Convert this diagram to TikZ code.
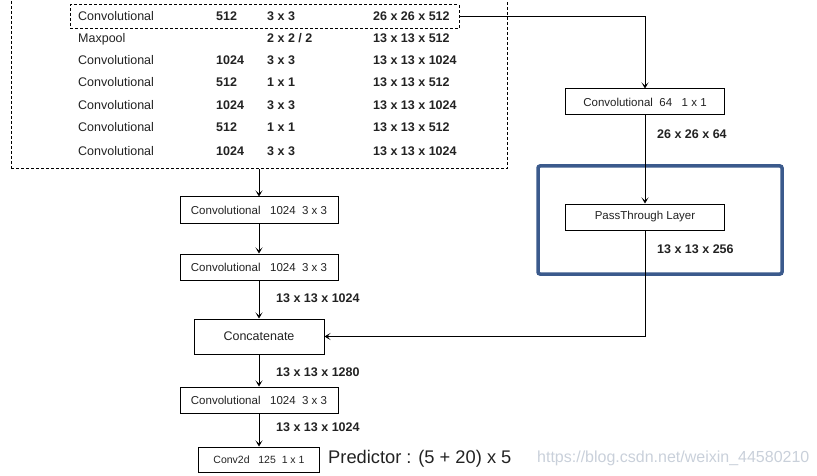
\documentclass[tikz,border=0pt]{standalone}
\usepackage{fontspec}
\setmainfont{Liberation Sans}
\usetikzlibrary{arrows.meta}
\definecolor{txt}{HTML}{222222}
\definecolor{frameblue}{HTML}{3B5A8C}
\definecolor{wmark}{HTML}{C9D0DA}
\tikzset{
  arr/.style={-{Stealth[length=6pt,width=7pt,inset=3pt]}, line width=1pt, draw=black},
  ln/.style={line width=1pt, draw=black},
  dbox/.style={draw=black, line width=1pt, dash pattern=on 3pt off 2pt, inner sep=0pt},
  cell/.style={anchor=west, inner sep=0pt, text=txt, font=\fontsize{12.5}{14}\selectfont, text height=9pt, text depth=2.5pt},
  bcell/.style={cell, font=\fontsize{12.5}{14}\selectfont\bfseries},
  lbl/.style={anchor=west, inner sep=0pt, text=txt, font=\fontsize{12.5}{14}\selectfont\bfseries, text height=9pt, text depth=2.5pt},
  layer/.style={draw=black, line width=1pt, inner sep=0pt, text=txt, font=\fontsize{11.5}{13}\selectfont},
}
\begin{document}
\begin{tikzpicture}[x=1pt,y=-1pt]
\useasboundingbox (0,0) rectangle (817,476);
% outer dashed box (top edge off the picture)
\node[dbox, minimum width=496pt, minimum height=178pt] (outer) at (259,80) {};
% first row dashed box
\node[dbox, minimum width=389pt, minimum height=24pt] (r1) at (264.5,17) {};
% table
\foreach \y/\a/\b/\c/\d in {17/Convolutional/512/3 x 3/26 x 26 x 512,
  39/Maxpool//{2 x 2 / 2}/13 x 13 x 512,
  61/Convolutional/1024/3 x 3/13 x 13 x 1024,
  83/Convolutional/512/1 x 1/13 x 13 x 512,
  106/Convolutional/1024/3 x 3/13 x 13 x 1024,
  128/Convolutional/512/1 x 1/13 x 13 x 512,
  152/Convolutional/1024/3 x 3/13 x 13 x 1024}{
  \node[cell] (ta\y) at (78,\y) {\a};
  \node[bcell] (tb\y) at (216,\y) {\b};
  \node[bcell] (tc\y) at (267,\y) {\c};
  \node[bcell] (td\y) at (373,\y) {\d};
}
% right branch
\node[layer, minimum width=159pt, minimum height=26pt] (c64) at (645,102) {Convolutional\ \ 64\ \ \ 1 x 1};
\node[draw=frameblue, line width=3.5pt, rounded corners=2pt, minimum width=244pt, minimum height=108pt] (blue) at (660,220) {};
\node[layer, minimum width=159pt, minimum height=26pt] (pt) at (645,217) {PassThrough Layer};
\node[lbl] (l1) at (657,135) {26 x 26 x 64};
\node[lbl] (l2) at (657,250) {13 x 13 x 256};
% left column
\node[layer, minimum width=158pt, minimum height=26pt] (c1) at (259,210) {Convolutional\ \ \ 1024\ \ 3 x 3};
\node[layer, minimum width=158pt, minimum height=26pt] (c2) at (259,267) {Convolutional\ \ \ 1024\ \ 3 x 3};
\node[layer, font=\fontsize{12.5}{14}\selectfont, minimum width=130pt, minimum height=35pt] (cat) at (259,336.5) {Concatenate};
\node[layer, minimum width=158pt, minimum height=26pt] (c3) at (259,400) {Convolutional\ \ \ 1024\ \ 3 x 3};
\node[layer, font=\fontsize{10.5}{12}\selectfont, minimum width=121pt, minimum height=25pt] (cv) at (259,459.5) {Conv2d\ \ \ 125\ \ 1 x 1};
\node[lbl] (l3) at (276,299) {13 x 13 x 1024};
\node[lbl] (l4) at (276,373) {13 x 13 x 1280};
\node[lbl] (l5) at (276,428) {13 x 13 x 1024};
\node[anchor=west, inner sep=0pt, text=txt, font=\fontsize{18.3}{20}\selectfont] (pred) at (328,459) {Predictor : (5 + 20) x 5};
\node[anchor=west, inner sep=0pt, text=wmark, font=\fontsize{16}{18}\selectfont] (wm) at (537,458) {https://blog.csdn.net/weixin\_44580210};
% connectors
\draw[arr] (r1.east) -| (c64.north);
\draw[arr] (c64.south) -- (pt.north);
\draw[arr] (pt.south) |- (cat.east);
\draw[arr] (outer.south) -- (c1.north);
\draw[arr] (c1.south) -- (c2.north);
\draw[arr] (c2.south) -- (cat.north);
\draw[arr] (cat.south) -- (c3.north);
\draw[arr] (c3.south) -- (cv.north);
\end{tikzpicture}
\end{document}
